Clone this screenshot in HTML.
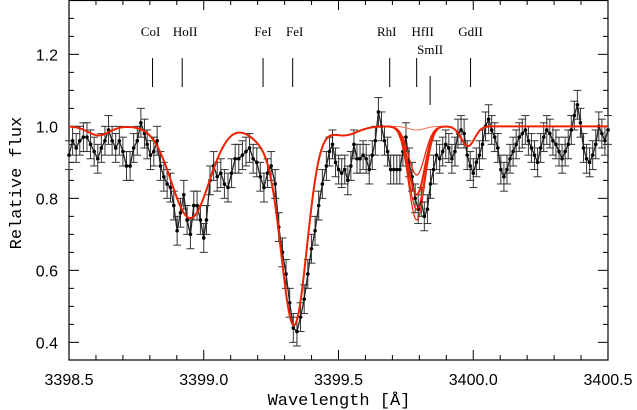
<!DOCTYPE html>
<html><head><meta charset="utf-8">
<style>
html,body{margin:0;padding:0;background:#fff;}
svg{display:block;font-family:"Liberation Sans",sans-serif;}
</style></head>
<body>
<svg id="chart" width="637" height="410" viewBox="0 0 637 410"></svg>
<script>
// ---- data (segments: start wavelength, end wavelength, flux values) ----
const segStarts = [3398.50, 3398.79, 3399.01, 3399.265, 3399.455];
const segEnds   = [3398.78, 3399.00, 3399.25, 3399.44, 3400.50];
const segFlux = [
 [0.92,0.96,0.94,0.96,0.97,0.97,0.95,0.93,0.91,0.94,0.96,0.99,0.96,0.94,0.96,0.93,0.89,0.89,0.94,0.96,1.01,0.98],
 [0.95,0.92,0.93,0.96,0.89,0.86,0.84,0.83,0.78,0.71,0.76,0.81,0.74,0.70,0.78,0.78,0.74,0.69],
 [0.74,0.85,0.89,0.86,0.87,0.84,0.83,0.87,0.91,0.91,0.92,0.93,0.94,0.91,0.90,0.86,0.83,0.87,0.89],
 [0.84,0.72,0.65,0.59,0.51,0.44,0.43,0.47,0.52,0.59,0.66,0.71,0.78,0.84],
 [0.89,0.93,0.95,0.90,0.88,0.87,0.88,0.85,0.89,0.95,0.91,0.91,0.92,0.91,0.88,0.92,0.96,1.04,1.00,0.96,0.93,0.88,0.88,0.88,0.88,0.93,0.97,
  0.90,0.86,0.80,0.77,0.79,0.75,0.77,0.84,0.88,0.92,0.91,0.93,0.95,0.94,0.91,0.93,0.98,0.99,0.98,0.92,0.89,0.87,0.90,0.92,0.95,1.00,1.02,0.99,0.97,0.94,0.88,0.86,0.88,0.91,0.93,0.95,0.97,0.98,0.99,0.96,0.94,0.92,0.90,0.94,0.97,0.99,0.98,0.96,0.95,0.93,0.91,0.93,0.95,0.99,1.03,1.06,1.01,0.94,0.91,0.90,0.92,0.95,1.00,0.98,0.96,0.99]
];
const fluxError = 0.04;
const waveStart = 3398.5, waveEnd = 3400.5;
const lineCenters = [3398.61, 3398.95, 3399.22, 3399.335, 3399.52, 3399.98];
const lineDepths  = [0.025, 0.255, 0.04, 0.55, 0.025, 0.055];
const lineSigmas  = [0.04, 0.07, 0.05, 0.048, 0.05, 0.025];
const hfCenter = 3399.79, hfSigma = 0.03;
const hfDepths = [0.01, 0.135, 0.19, 0.23, 0.26];
const markerNames = ["CoI","HoII","FeI","FeI","RhI","HfII","SmII","GdII"];
const markerWaves = [3398.81,3398.92,3399.22,3399.33,3399.69,3399.79,3399.84,3399.99];
const xTickLabels = ["3398.5","3399.0","3399.5","3400.0","3400.5"];
const yTickLabels = ["0.4","0.6","0.8","1.0","1.2"];

// ---- axes ----
const L=69,R=608,T=0,B=360;
const yMin=0.351,yMax=1.351;
const X=w=>L+(w-waveStart)/(waveEnd-waveStart)*(R-L);
const Y=v=>B-(v-yMin)/(yMax-yMin)*(B-T);
const NS="http://www.w3.org/2000/svg";
const svg=document.getElementById('chart');
function mk(tag,attrs,parent){const e=document.createElementNS(NS,tag);for(const k in attrs)e.setAttribute(k,attrs[k]);(parent||svg).appendChild(e);return e;}

const frame=mk('rect',{x:L,y:T+0.5,width:R-L,height:B-T-0.5,fill:'none',stroke:'#000','stroke-width':1.2});



const ticks=mk('g',{stroke:'#000','stroke-width':1});


for(let i=0;i<=20;i++){const w=waveStart+i*0.1,x=X(w),len=(i%5==0)?10:5;
  mk('line',{x1:x,y1:B,x2:x,y2:B-len},ticks);mk('line',{x1:x,y1:T,x2:x,y2:T+len},ticks);}
for(let v=0.4;v<=1.351;v+=0.05){const y=Y(v),k=Math.round(v*100);const len=(k%20==0)?10:5;
  mk('line',{x1:L,y1:y,x2:L+len,y2:y},ticks);mk('line',{x1:R,y1:y,x2:R-len,y2:y},ticks);}
xTickLabels.forEach(s=>{const t=mk('text',{x:X(parseFloat(s)),y:385,'text-anchor':'middle','font-size':16});t.textContent=s;
  
  });
yTickLabels.forEach(s=>{const t=mk('text',{x:58,y:Y(parseFloat(s))+6,'text-anchor':'end','font-size':16});t.textContent=s;
  
  });
const xt=mk('text',{x:339,y:405,'text-anchor':'middle','font-size':17,'font-family':'Liberation Mono, monospace'});xt.textContent='Wavelength [Å]';


const yt=mk('text',{x:0,y:0,'text-anchor':'middle','font-size':17,'font-family':'Liberation Mono, monospace',transform:'translate(21,183) rotate(-90)'});yt.textContent='Relative flux';



markerNames.forEach((n,i)=>{const x=X(markerWaves[i]);const low=n==="SmII";
  const g=mk('g',{});
  
  
  mk('line',{x1:x,y1:low?76:58,x2:x,y2:low?105:87,stroke:'#000','stroke-width':1},g);
  let dx=0; if(i===0)dx=-2; if(i===1)dx=3; if(i===3)dx=2; if(i===4)dx=-3;if(i===5)dx=6;
  const t=mk('text',{x:x+dx,y:low?54:36,'text-anchor':'middle','font-size':13,'font-family':'Liberation Serif, serif'},g);t.textContent=n;});

// build points from segments
const waves=[],fluxValues=[];
segFlux.forEach((vals,s)=>{const m=vals.length;vals.forEach((f,i)=>{
  waves.push(m>1?segStarts[s]+(segEnds[s]-segStarts[s])*i/(m-1):segStarts[s]);fluxValues.push(f);});});

const eg=mk('g',{stroke:'#333','stroke-width':1});


fluxValues.forEach((f,i)=>{const x=X(waves[i]),y1=Y(f+fluxError),y2=Y(f-fluxError);
  mk('line',{x1:x,y1:y1,x2:x,y2:y2},eg);mk('line',{x1:x-4,y1:y1,x2:x+4,y2:y1},eg);mk('line',{x1:x-4,y1:y2,x2:x+4,y2:y2},eg);});
const dl=mk('polyline',{points:fluxValues.map((f,i)=>X(waves[i])+','+Y(f)).join(' '),fill:'none',stroke:'#222','stroke-width':1.3});


const pg=mk('g',{fill:'#000'});


fluxValues.forEach((f,i)=>mk('circle',{cx:X(waves[i]),cy:Y(f),r:1.8},pg));

function model(w,hd){let v=1;for(let k=0;k<lineCenters.length;k++)v-=lineDepths[k]*Math.exp(-0.5*((w-lineCenters[k])/lineSigmas[k])**2);
  v-=hd*Math.exp(-0.5*((w-hfCenter)/hfSigma)**2);return v;}
hfDepths.forEach((hd,j)=>{const pts=[];for(let w=waveStart;w<=waveEnd+1e-9;w+=0.004)pts.push(X(w)+','+Y(model(w,hd)));
  const p=mk('polyline',{points:pts.join(' '),fill:'none',stroke:j===0?'#f07050':'#ee2200','stroke-width':j===0?1:(j===2?2:1.2)});
  
  });
</script>
</body></html>
